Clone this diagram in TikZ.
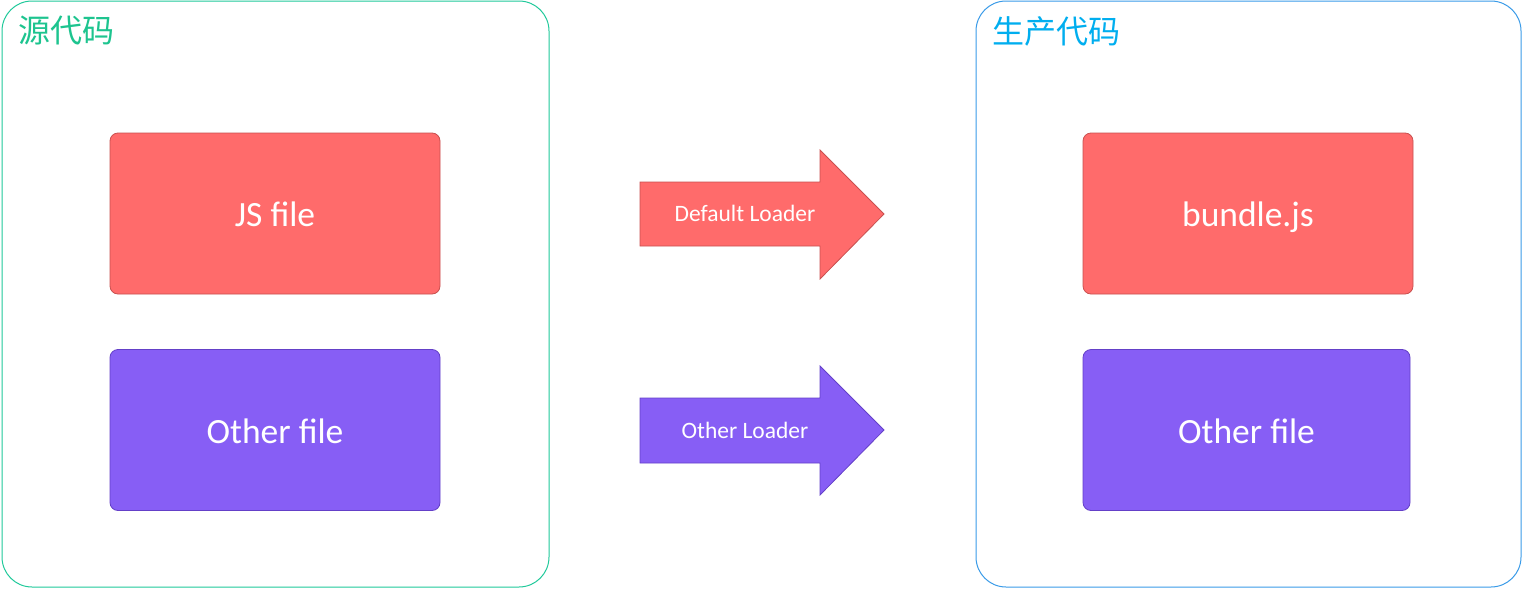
\documentclass[tikz,border=0pt]{standalone}
\usepackage{fontspec}
\setmainfont{Carlito}
\newfontfamily\cjk{Noto Sans CJK SC}
\definecolor{cgreen}{HTML}{1FC99A}
\definecolor{cgreentext}{HTML}{1DC48F}
\definecolor{cblue}{HTML}{3A9BE8}
\definecolor{cbluetext}{HTML}{00AEEF}
\definecolor{cred}{HTML}{FF6B6B}
\definecolor{credline}{HTML}{C9504F}
\definecolor{cpurple}{HTML}{875EF5}
\definecolor{cpurpleline}{HTML}{6440C8}
\begin{document}
\begin{tikzpicture}[x=1pt,y=-1pt,
  container/.style={draw=#1,line width=1pt,rounded corners=30pt,fill=white},
  filebox/.style={draw=#1line,fill=#1,line width=0.8pt,rounded corners=8pt,minimum width=330pt,minimum height=161pt,inner sep=0pt,text=white,text height=26pt,text depth=0pt,font=\fontsize{35.5}{40}\selectfont},
  bigarrow/.style={draw=#1line,fill=#1,line width=0.8pt},
  arrowlabel/.style={text=white,font=\fontsize{23.5}{28}\selectfont,inner sep=0pt,text height=17pt,text depth=0pt},
  title/.style={anchor=west,inner sep=0pt,font=\cjk\fontsize{32}{36}\selectfont}
]
\useasboundingbox (0,0) rectangle (1522,589);
\draw[container=cgreen] (2,1) rectangle (549,587);
\draw[container=cblue] (976,1) rectangle (1521,587);
\node[title,text=cgreentext] (t1) at (18,31) {源代码};
\node[title,text=cbluetext] (t2) at (992,31) {生产代码};

\node[filebox=cred] (js) at (275,213.5) {JS file};
\node[filebox=cpurple] (of1) at (275,430) {Other file};
\node[filebox=cred] (bundle) at (1248,213.5) {bundle.js};
\node[filebox=cpurple,minimum width=327pt] (of2) at (1246.5,430) {Other file};

\draw[bigarrow=cred] (640,182) -- (820,182) -- (820,150) -- (884,214) -- (820,279) -- (820,246) -- (640,246) -- cycle;
\node[arrowlabel] (l1) at (745,213) {Default Loader};
\draw[bigarrow=cpurple] (640,398) -- (820,398) -- (820,366) -- (884,430) -- (820,495) -- (820,463) -- (640,463) -- cycle;
\node[arrowlabel] (l2) at (745,430) {Other Loader};
\end{tikzpicture}
\end{document}
